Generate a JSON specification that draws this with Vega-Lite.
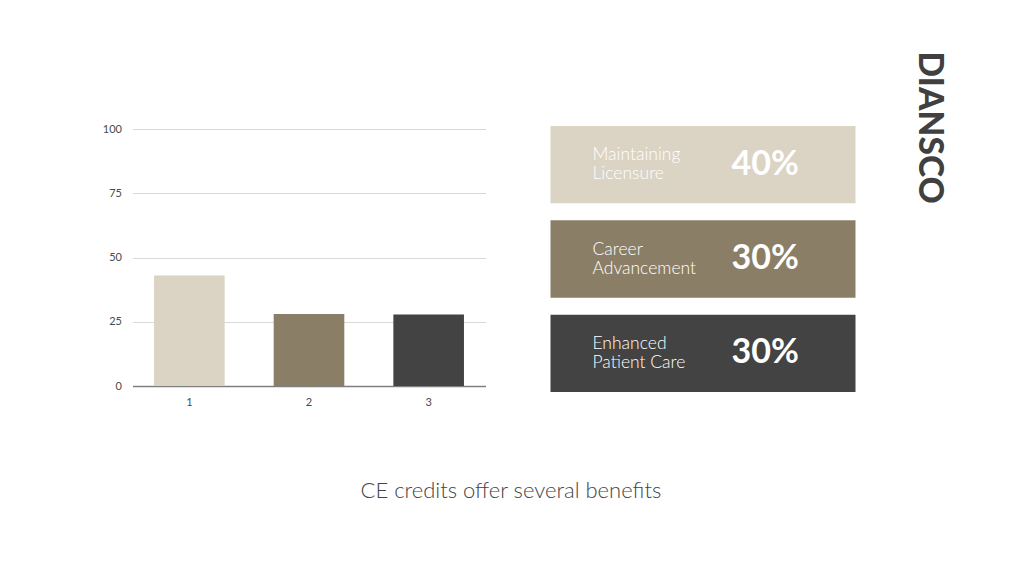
{
  "$schema": "https://vega.github.io/schema/vega-lite/v6.json",
  "background": "white",
  "padding": {"left": 101.5, "top": 51, "right": 30, "bottom": 0},
  "bounds": "flush",
  "datasets": {
    "d": [
      {"id": "1", "value": 43, "label": "Maintaining\nLicensure", "pct": "40%"},
      {"id": "2", "value": 28, "label": "Career\nAdvancement", "pct": "30%"},
      {"id": "3", "value": 27.8, "label": "Enhanced\nPatient Care", "pct": "30%"}
    ],
    "logo": [{"name": "DIANSCO"}]
  },
  "title": {
    "text": "CE credits offer several benefits",
    "orient": "bottom",
    "anchor": "middle",
    "font": "Lato",
    "fontWeight": 300,
    "fontSize": 22,
    "color": "#444444",
    "offset": 74,
    "dx": -13
  },
  "config": {
    "view": {"stroke": null},
    "axis": {"labelFont": "Lato", "labelColor": "#4a4a4a", "labelFontSize": 11}
  },
  "spacing": 65,
  "hconcat": [
    {
      "data": {"name": "d"},
      "width": 353,
      "height": 260,
      "mark": {"type": "bar"},
      "encoding": {
        "x": {
          "field": "id",
          "type": "nominal",
          "scale": {"paddingInner": 0.41, "paddingOuter": 0.18},
          "axis": {"title": null, "labelAngle": 0, "ticks": false, "labelPadding": 10, "domainColor": "#7f7f7f", "domainWidth": 1.3, "grid": false}
        },
        "y": {
          "field": "value",
          "type": "quantitative",
          "scale": {"domain": [0, 101.2], "nice": false},
          "axis": {"title": null, "values": [0, 25, 50, 75, 100], "domain": false, "ticks": false, "labelPadding": 11, "gridColor": "#d9d9d9", "gridWidth": 1}
        },
        "color": {
          "field": "id",
          "type": "nominal",
          "scale": {"range": ["#dbd3c4", "#8b7e66", "#434343"]},
          "legend": null
        }
      }
    },
    {
      "data": {"name": "d"},
      "width": 305,
      "height": 266,
      "encoding": {
        "y": {
          "field": "id",
          "type": "nominal",
          "scale": {"paddingInner": 0.18, "paddingOuter": 0},
          "axis": null
        }
      },
      "layer": [
        {
          "mark": {"type": "bar"},
          "encoding": {
            "color": {
              "field": "id",
              "type": "nominal",
              "scale": {"range": ["#dbd3c4", "#8b7e66", "#434343"]},
              "legend": null
            }
          }
        },
        {
          "mark": {"type": "text", "align": "left", "baseline": "middle", "dx": -110.5, "dy": -9.5, "lineBreak": "\n", "lineHeight": 19, "font": "Lato", "fontWeight": 300, "fontSize": 17.5, "color": "white"},
          "encoding": {"text": {"field": "label"}}
        },
        {
          "mark": {"type": "text", "align": "left", "baseline": "middle", "dx": 28.5, "font": "Lato", "fontWeight": "bold", "fontSize": 34, "color": "white"},
          "encoding": {"text": {"field": "pct"}}
        }
      ]
    },
    {
      "data": {"name": "logo"},
      "width": 16,
      "height": 266,
      "mark": {"type": "text", "angle": 90, "align": "center", "baseline": "middle", "dx": -131.5, "dy": 0, "font": "Lato", "fontWeight": 900, "fontSize": 33.5, "color": "#404040"},
      "encoding": {"text": {"field": "name"}}
    }
  ]
}
